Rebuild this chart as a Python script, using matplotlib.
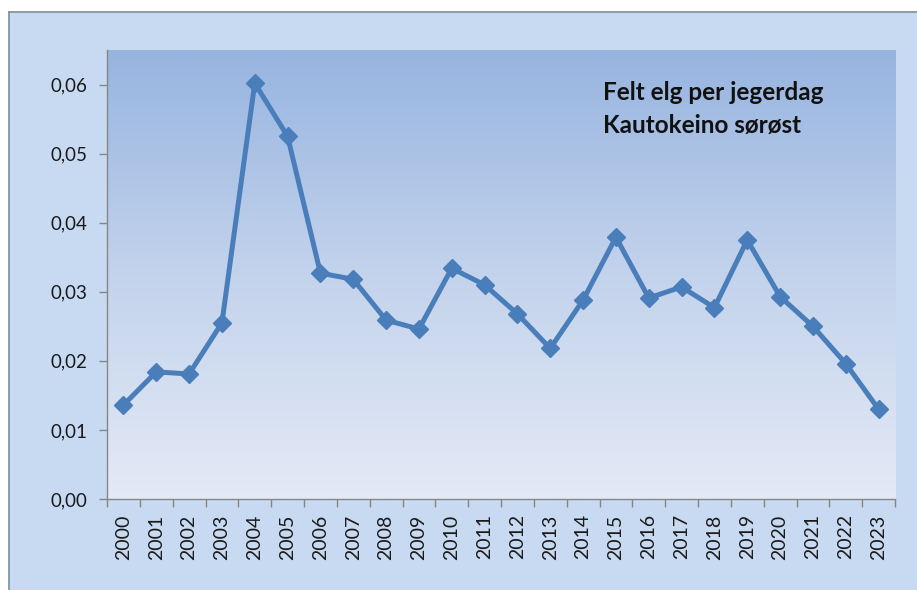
import matplotlib
matplotlib.use("Agg")
import matplotlib.pyplot as plt
import numpy as np
from matplotlib.patches import Rectangle
from matplotlib.lines import Line2D
from matplotlib.colors import LinearSegmentedColormap

# felt elg per jegerdag, lest av figuren
years = [str(y) for y in range(2000, 2024)]
felt_per_dag = [0.0136, 0.0184, 0.0181, 0.0255, 0.0602, 0.0525, 0.0327, 0.0318,
                0.0259, 0.0246, 0.0334, 0.0310, 0.0268, 0.0218, 0.0288, 0.0379,
                0.0291, 0.0307, 0.0277, 0.0375, 0.0293, 0.0250, 0.0196, 0.0130]
y_ticks = [0.0, 0.01, 0.02, 0.03, 0.04, 0.05, 0.06]
tittel = "Felt elg per jegerdag\nKautokeino sørøst"

plt.rcParams['font.family'] = ['Lato', 'DejaVu Sans']

fig = plt.figure(figsize=(9.17, 5.9), dpi=100)
fig.patch.set_facecolor("white")

# ytre diagramramme
W, H = 917, 590
fig.add_artist(Rectangle((9 / W, 0), 1, 1 - 12 / H, transform=fig.transFigure,
                         facecolor="#c8daf1", edgecolor="none", zorder=-10))
fig.add_artist(Line2D([9 / W, 1], [1 - 12 / H, 1 - 12 / H], transform=fig.transFigure,
                      color="#7f8c9e", lw=1.2, zorder=-5))
fig.add_artist(Line2D([9 / W, 9 / W], [0, 1 - 12 / H], transform=fig.transFigure,
                      color="#7f8c9e", lw=1.2, zorder=-5))

ax = fig.add_axes([107 / W, 1 - 499 / H, (895 - 107) / W, (499 - 50) / H])
ax.set_zorder(1)
ax.set_facecolor("none")

# gradient i plotteområdet
cmap = LinearSegmentedColormap.from_list("grad", ["#e4eaf6", "#c3d3ec", "#97b4e0"])
grad = np.linspace(0, 1, 256).reshape(-1, 1)
ax.imshow(grad, cmap=cmap, aspect="auto", extent=[0, 1, 0, 1], origin="lower",
          transform=ax.transAxes, zorder=0)

x = np.arange(len(years))
ax.plot(x, felt_per_dag, color="#4a7ebb", lw=3.6, marker="D", markersize=9,
        zorder=3, clip_on=False)

ax.set_xlim(-0.5, len(years) - 0.5)
ax.set_ylim(0, 0.065)

ax.set_yticks(y_ticks)
ax.set_yticklabels([f"{v:.2f}".replace(".", ",") for v in y_ticks])
ax.tick_params(axis="y", length=6, width=1, color="#868686", pad=8,
               labelsize=13.5, labelcolor="#1a1a1a")

ax.set_xticks(x)
ax.set_xticklabels(years, rotation=90)
ax.set_xticks(np.arange(len(years) + 1) - 0.5, minor=True)
ax.tick_params(axis="x", which="major", length=0, pad=11, labelsize=14,
               labelcolor="#1a1a1a")
ax.tick_params(axis="x", which="minor", length=6, width=1, color="#868686")

for side in ["top", "right"]:
    ax.spines[side].set_visible(False)
for side in ["left", "bottom"]:
    ax.spines[side].set_color("#868686")
    ax.spines[side].set_linewidth(1)

ax.text(0.629, 0.93, tittel, transform=ax.transAxes, ha="left", va="top",
        fontsize=17.5, fontweight="bold", color="#111111", linespacing=1.5)

fig.savefig("out.png", dpi=100)
